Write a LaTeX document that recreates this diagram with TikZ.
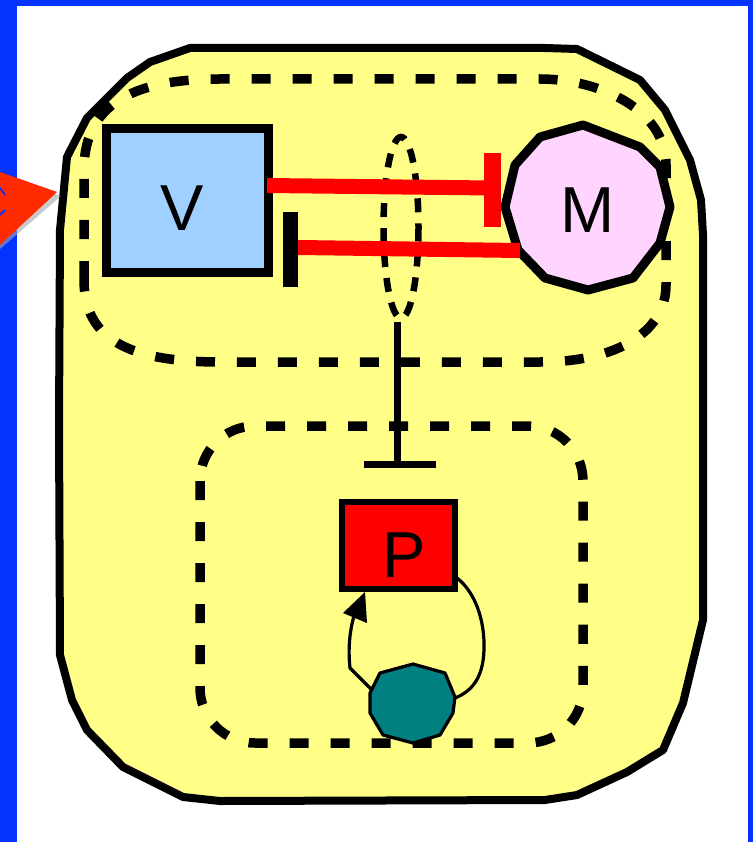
\documentclass[tikz,border=0pt]{standalone}
\usepackage{fontspec}
\setmainfont{Liberation Sans}
\definecolor{bordblue}{RGB}{5,51,255}
\definecolor{cellyellow}{RGB}{255,255,136}
\definecolor{vblue}{RGB}{160,208,255}
\definecolor{mpink}{RGB}{255,213,255}
\definecolor{arrred}{RGB}{255,42,0}
\definecolor{tealc}{RGB}{0,128,128}
\definecolor{inhred}{RGB}{255,0,0}
\begin{document}
\begin{tikzpicture}[x=1pt,y=-1pt,
  outerline/.style={draw=black,line width=8pt,fill=cellyellow,line join=round},
  dashbox/.style={draw=black,line width=9.5pt,dash pattern=on 19pt off 22pt},
  inhib/.style={draw=inhred,line width=15pt},
  blackbar/.style={draw=black,line width=7pt},
  biglabel/.style={font=\fontsize{65}{78}\selectfont,inner sep=0pt,anchor=base},
  thinline/.style={draw=black,line width=3.2pt,line join=round}]
\useasboundingbox (0,0) rectangle (753,842);
% background and blue frame
\fill[bordblue] (0,0) rectangle (753,842);
\fill[white] (17,6) rectangle (748,842);
% outer cell
\path[outerline] (190,48) -- (545,48) -- (577,49) -- (640,80) -- (665,110) -- (690,160) -- (701,200) -- (703,235) -- (703,620) -- (683,703) -- (663,750) -- (627,772) -- (577,795) -- (545,800) -- (220,801) -- (183,797) -- (123,767) -- (87,730) -- (72,700) -- (60,655) -- (59,425) -- (60,230) -- (67,157) -- (87,118) -- (127,78) -- (150,62) -- cycle;
% left red arrow with shadow
\fill[black!35,opacity=0.6] (0,176) -- (61,196) -- (0,249) -- cycle;
\fill[arrred] (0,172) -- (57,192) -- (0,245) -- cycle;
\draw[bordblue,line width=1.8pt] (0,188) -- (5,195);
\draw[bordblue,line width=1.8pt] (5,210) -- (0,215);
% upper dashed compartment
\draw[dashbox] (84,280) -- (84,170) .. controls (84,100) and (140,79) .. (220,79) -- (540,79) .. controls (600,79) and (666,110) .. (666,165) -- (666,285) .. controls (666,330) and (620,362) .. (540,362) -- (220,362) .. controls (130,362) and (84,340) .. cycle;
% lower dashed compartment
\draw[dashbox,rounded corners=55pt] (200,426) rectangle (583,743);
% dashed ellipse
\draw[draw=black,line width=6.5pt,dash pattern=on 14pt off 11pt] (401,227.5) ellipse [x radius=17.5, y radius=90.5];
% V box
\node[draw=black,line width=9pt,fill=vblue,minimum width=162pt,minimum height=143pt,inner sep=0pt] (V) at (187,200.5) {};
\node[biglabel] (Vt) at (182.5,230) {V};
% M polygon
\path[draw=black,line width=9pt,fill=mpink,line join=round] (583,125) -- (640,147) -- (660,167) -- (670,207) -- (660,243) -- (633,278) -- (588,290) -- (545,278) -- (518,250) -- (505,207) -- (515,165) -- (540,137) -- cycle;
\node[biglabel] (M) at (588,233) {M};
% inhibition V -| M
\coordinate (vout) at (267,185.5);
\coordinate (mbar) at (492,188);
\draw[inhib] (vout) -- (mbar);
\draw[draw=inhred,line width=17pt] (492,153) -- (492,227);
% inhibition M -| V
\coordinate (min) at (520,250.5);
\coordinate (vbar) at (290.5,247.5);
\draw[inhib] (min) -- (298,247.5);
\draw[draw=black,line width=15pt] (290.5,212) -- (290.5,287);
% inhibition complex -| P compartment
\coordinate (cx) at (397,322);
\coordinate (cbar) at (397,464);
\draw[blackbar] (cx) -- (cbar);
\draw[blackbar] (364,464) -- (436,464);
% P box
\node[draw=black,line width=6.5pt,fill=inhred,minimum width=113pt,minimum height=87pt,inner sep=0pt] (P) at (398.5,545.5) {};
\node[biglabel] (Pt) at (404,577) {P};
% teal molecule
\path[draw=black,line width=3.2pt,fill=tealc,line join=round] (413,664) -- (445,673) -- (455,697) -- (453,713) -- (440,735) -- (413,743) -- (383,735) -- (370,713) -- (370,693) -- (380,673) -- cycle;
\coordinate (tl) at (372,690);
\coordinate (tr) at (455,698);
\coordinate (pin) at (365,592);
\coordinate (pout) at (457,578);
% loop teal -> P
\draw[thinline] (tl) -- (350,668) .. controls (348,650) and (349,628) .. (357,607);
\fill[black] (pin) -- (343,613) -- (367,623) -- cycle;
% loop P -> teal
\draw[thinline] (pout) .. controls (475,592) and (485,620) .. (484,650) .. controls (483,680) and (470,692) .. (tr);
\end{tikzpicture}
\end{document}
